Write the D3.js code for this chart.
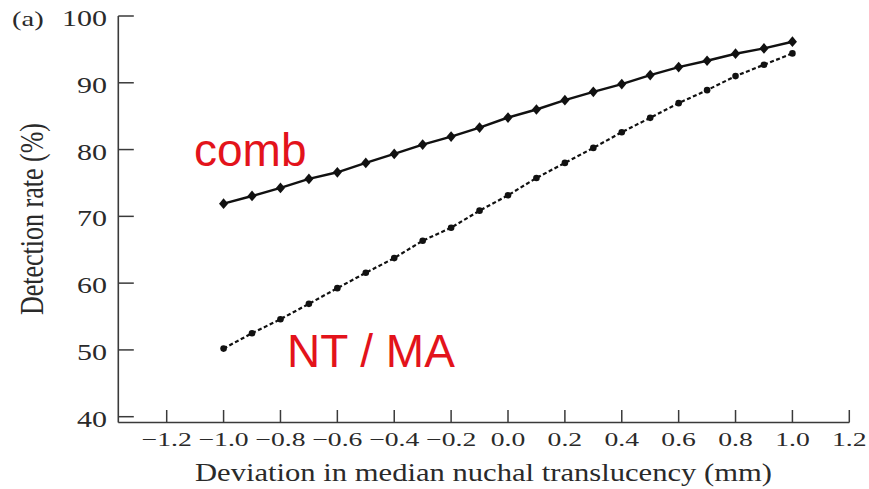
<!DOCTYPE html>
<html>
<head>
<meta charset="utf-8">
<script src="https://cdn.jsdelivr.net/npm/d3@7"></script>
<style>
html,body{margin:0;padding:0;background:#fff;}
svg{display:block;}
</style>
</head>
<body>
<svg id="chart" width="869" height="489"></svg>
<script>
// ---- data ----
const xValues = [-1.0,-0.9,-0.8,-0.7,-0.6,-0.5,-0.4,-0.3,-0.2,-0.1,0.0,0.1,0.2,0.3,0.4,0.5,0.6,0.7,0.8,0.9,1.0];
const combValues = [71.9,73.05,74.25,75.6,76.6,78.0,79.35,80.75,81.95,83.3,84.8,86.0,87.4,88.65,89.8,91.15,92.35,93.3,94.35,95.15,96.15];
const ntmaValues = [50.2,52.5,54.6,56.9,59.25,61.55,63.75,66.35,68.3,70.85,73.15,75.75,78.0,80.25,82.6,84.75,86.95,88.9,91.0,92.7,94.4];
const xTicks = [-1.2,-1.0,-0.8,-0.6,-0.4,-0.2,0.0,0.2,0.4,0.6,0.8,1.0,1.2];
const yTicks = [40,50,60,70,80,90,100];
const seriesLabels = ["comb","NT / MA"];
const xTitle = "Deviation in median nuchal translucency (mm)";
const yTitle = "Detection rate (%)";
const panelLabel = "(a)";

// ---- layout ----
const svg = d3.select("#chart");
const x = d3.scaleLinear().domain([-1.2,1.2]).range([166.7,849.3]);
const y = d3.scaleLinear().domain([40,100]).range([416.7,16]);
const axisX0 = 118.3, axisY0 = 422.5;
const axisColor = "#3a3a3a", textColor = "#2a2a2a";
const serif = "'Liberation Serif','Times New Roman',serif";

// axes lines
svg.append("line").attr("x1",axisX0).attr("x2",axisX0).attr("y1",y(100)).attr("y2",axisY0)
  .attr("stroke",axisColor).attr("stroke-width",1.6);
svg.append("line").attr("x1",axisX0).attr("x2",x(1.2)).attr("y1",axisY0).attr("y2",axisY0)
  .attr("stroke",axisColor).attr("stroke-width",1.6);

// y ticks
const yt = svg.append("g").selectAll("g").data(yTicks).join("g")
  .attr("transform",d=>`translate(0,${y(d)})`);
yt.append("line").attr("x1",axisX0).attr("x2",axisX0+15.5).attr("stroke",axisColor).attr("stroke-width",1.5);
yt.append("text").attr("transform","translate(107,10) scale(1.25,1)")
  .attr("text-anchor","end").attr("font-family",serif).attr("font-size",24).attr("fill",textColor)
  .text(d=>d);

// x ticks
const fmt = d=>(d<0?"\u2212":"")+Math.abs(d).toFixed(1);
const xt = svg.append("g").selectAll("g").data(xTicks).join("g")
  .attr("transform",d=>`translate(${x(d)},0)`);
xt.append("line").attr("y1",axisY0).attr("y2",axisY0-12.5).attr("stroke",axisColor).attr("stroke-width",1.5);
xt.append("text").attr("transform",`translate(0,${axisY0+23}) scale(1.42,1)`)
  .attr("text-anchor","middle").attr("font-family",serif).attr("font-size",19.5).attr("fill",textColor)
  .text(fmt);

// titles
svg.append("text").attr("x",195).attr("y",481).attr("font-family",serif).attr("font-size",26)
  .attr("fill",textColor).attr("textLength",577).attr("lengthAdjust","spacingAndGlyphs").text(xTitle);
svg.append("text").attr("transform","translate(43,219) scale(1.28,1) rotate(-90)")
  .attr("text-anchor","middle").attr("font-family",serif).attr("font-size",26).attr("fill",textColor)
  .text(yTitle);
svg.append("text").attr("transform","translate(12,26) scale(1.3,1)")
  .attr("font-family",serif).attr("font-size",22).attr("fill",textColor).text(panelLabel);

// lines
const combData = xValues.map((v,i)=>[v,combValues[i]]);
const ntData = xValues.map((v,i)=>[v,ntmaValues[i]]);
const line = d3.line().x(d=>x(d[0])).y(d=>y(d[1]));
svg.append("path").datum(ntData).attr("d",line).attr("fill","none")
  .attr("stroke","#111").attr("stroke-width",2.2).attr("stroke-dasharray","4,2.5");
svg.append("path").datum(combData).attr("d",line).attr("fill","none")
  .attr("stroke","#111").attr("stroke-width",2.4);

// markers
const diamond = d3.symbol().type(d3.symbolDiamond).size(46);
svg.append("g").selectAll("path").data(combData).join("path")
  .attr("transform",d=>`translate(${x(d[0])},${y(d[1])}) scale(1.25,0.85)`)
  .attr("d",diamond).attr("fill","#111");
svg.append("g").selectAll("circle").data(ntData).join("circle")
  .attr("cx",d=>x(d[0])).attr("cy",d=>y(d[1])).attr("r",3.3).attr("fill","#111");

// red labels
const sans = "'Liberation Sans',Arial,sans-serif";
svg.append("text").attr("x",194).attr("y",166).attr("font-family",sans).attr("font-size",46)
  .attr("fill","#e3131b").text(seriesLabels[0]);
svg.append("text").attr("x",287).attr("y",367).attr("font-family",sans).attr("font-size",46)
  .attr("fill","#e3131b").text(seriesLabels[1]);
</script>
</body>
</html>
